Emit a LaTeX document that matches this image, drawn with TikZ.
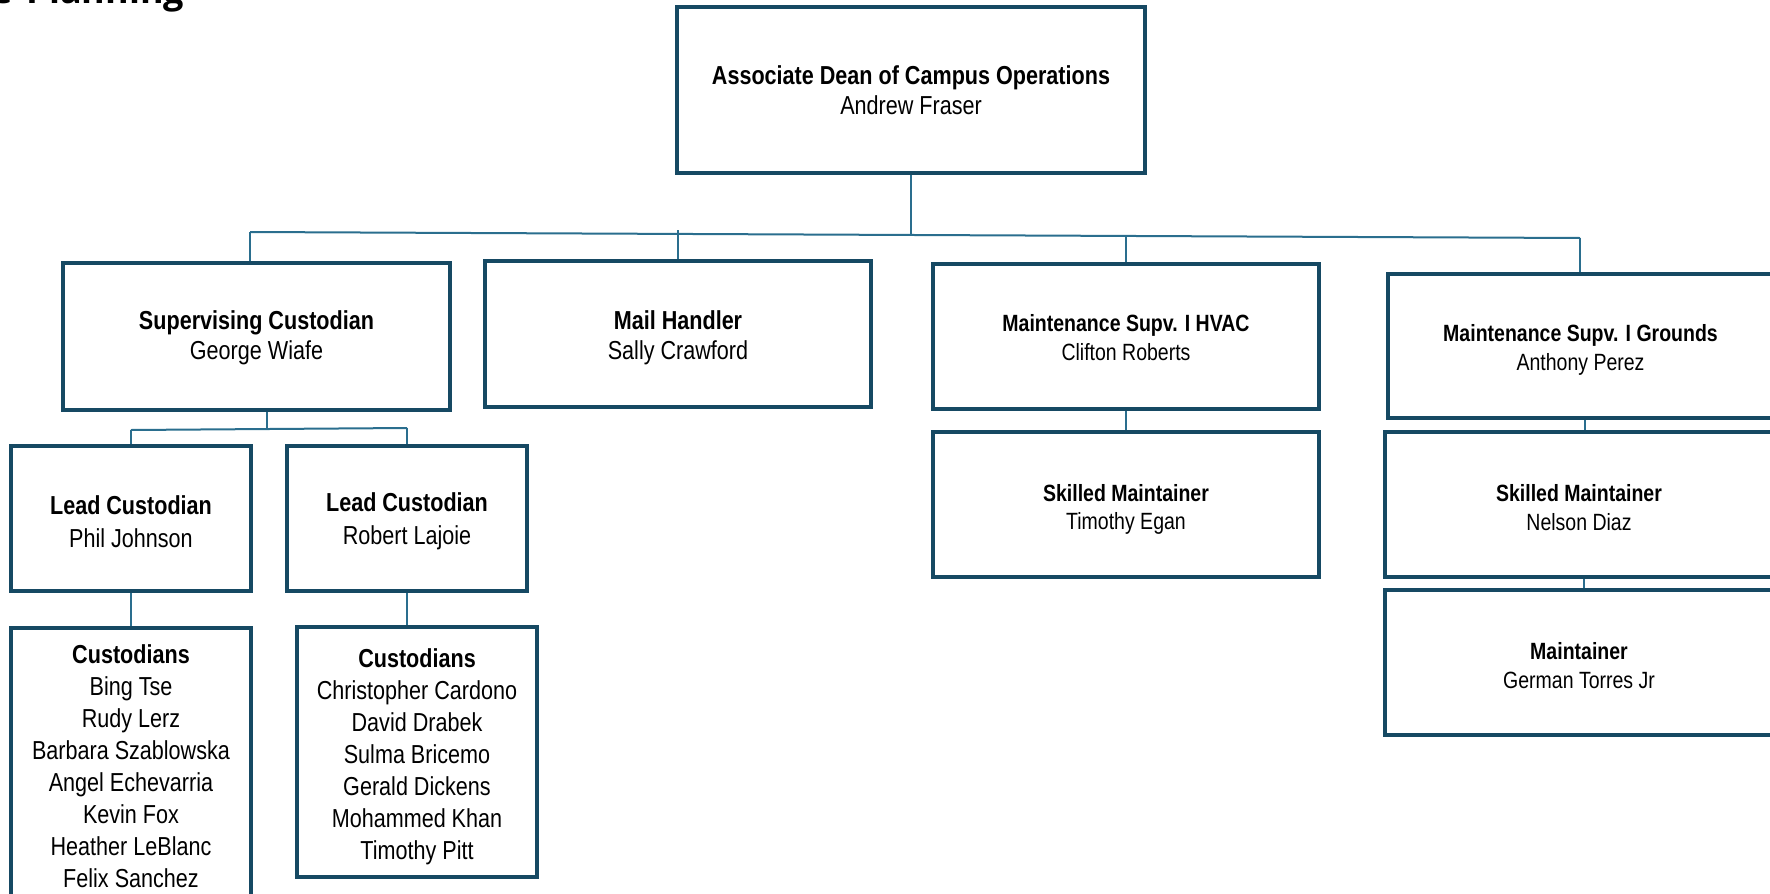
\documentclass[tikz,border=0pt]{standalone}
\usepackage{fontspec}
\setmainfont{Liberation Sans}[FakeStretch=0.83]
\newfontfamily\titlefont{Open Sans}
\definecolor{boxc}{RGB}{22,73,99}
\definecolor{linec}{RGB}{42,110,142}
\begin{document}
\begin{tikzpicture}[x=1pt,y=-1pt,
  orgbox/.style={draw=boxc,line width=4pt,fill=white,rectangle,inner sep=0pt},
  txt/.style={align=center,inner sep=0pt},
  big/.style={font=\fontsize{26}{30}\selectfont},
  listf/.style={font=\fontsize{26}{32}\selectfont},
  small/.style={font=\fontsize{23.5}{28.5}\selectfont},
  conn/.style={draw=linec,line width=2pt}]
\useasboundingbox (0,0) rectangle (1770,894);

% title (cut off at top edge, as in the reference)
\node[anchor=base west,inner sep=0pt,font=\titlefont\bfseries\fontsize{36}{40}\selectfont] (title) at (-9,4) {e\hspace{14pt}Planning};

% boxes
\node[orgbox,minimum width=468pt,minimum height=166pt] (dean) at (911,90) {};
\node[orgbox,minimum width=387pt,minimum height=147pt] (sup) at (256.5,336.5) {};
\node[orgbox,minimum width=386pt,minimum height=146pt] (mail) at (678,334) {};
\node[orgbox,minimum width=386pt,minimum height=145pt] (hvac) at (1126,336.5) {};
\node[orgbox,minimum width=385pt,minimum height=144pt] (grounds) at (1580.5,346) {};
\node[orgbox,minimum width=240pt,minimum height=145pt] (leadA) at (131,518.5) {};
\node[orgbox,minimum width=240pt,minimum height=145pt] (leadB) at (407,518.5) {};
\node[orgbox,minimum width=240pt,minimum height=282pt] (custA) at (131,769) {};
\node[orgbox,minimum width=240pt,minimum height=250pt] (custB) at (417,752) {};
\node[orgbox,minimum width=386pt,minimum height=145pt] (skillA) at (1126,504.5) {};
\node[orgbox,minimum width=388pt,minimum height=145pt] (skillB) at (1579,504.5) {};
\node[orgbox,minimum width=388pt,minimum height=145pt] (maint) at (1579,662.5) {};

% texts (yshift is in page points: negative moves down)
\node[txt,big] (deanT) at (dean.center)
  {\textbf{Associate Dean of Campus Operations}\\Andrew Fraser};
\node[txt,big] (supT) at ([yshift=-1pt]sup.center)
  {\textbf{Supervising Custodian}\\George Wiafe};
\node[txt,big] (mailT) at ([yshift=-4pt]mail.center)
  {\textbf{Mail Handler}\\Sally Crawford};
\node[txt,small] (hvacT) at ([yshift=-1pt]hvac.center)
  {\textbf{Maintenance Supv. I HVAC}\\Clifton Roberts};
\node[txt,small] (groundsT) at ([yshift=-4pt]grounds.center)
  {\textbf{Maintenance Supv. I Grounds}\\Anthony Perez};
\node[txt,font=\fontsize{26}{33}\selectfont] (leadAT) at ([yshift=-3pt]leadA.center)
  {\textbf{Lead Custodian}\\Phil Johnson};
\node[txt,font=\fontsize{26}{33}\selectfont] (leadBT) at ([yshift=-3pt]leadB.center)
  {\textbf{Lead Custodian}\\Robert Lajoie};
\node[txt,listf] (custAT) at ([yshift=3pt]custA.center)
  {\textbf{Custodians}\\Bing Tse\\Rudy Lerz\\Barbara Szablowska\\Angel Echevarria\\Kevin Fox\\Heather LeBlanc\\Felix Sanchez};
\node[txt,listf] (custBT) at ([yshift=-5pt]custB.center)
  {\textbf{Custodians}\\Christopher Cardono\\David Drabek\\Sulma Bricemo\\Gerald Dickens\\Mohammed Khan\\Timothy Pitt};
\node[txt,small] (skillAT) at ([yshift=-5pt]skillA.center)
  {\textbf{Skilled Maintainer}\\Timothy Egan};
\node[txt,small] (skillBT) at ([yshift=-3pt]skillB.center)
  {\textbf{Skilled Maintainer}\\Nelson Diaz};
\node[txt,small] (maintT) at ([yshift=-3pt]maint.center)
  {\textbf{Maintainer}\\German Torres Jr};

% bus coordinates
\coordinate (busL) at (250,232);
\coordinate (busR) at (1580,238);
\coordinate (busD) at (911,235);
\coordinate (busM) at (678,230);
\coordinate (busH) at (1126,236.2);
\coordinate (subL) at (131,430);
\coordinate (subR) at (407,428);
\coordinate (subC) at (267,429);

% connectors
\draw[conn] (dean.south) -- (busD);
\draw[conn] (busL) -- (busR);
\draw[conn] (busL) -- (busL |- sup.north);
\draw[conn] (busM) -- (mail.north);
\draw[conn] (busH) -- (hvac.north);
\draw[conn] (busR) -- (busR |- grounds.north);
\draw[conn] (subC |- sup.south) -- (subC);
\draw[conn] (subL) -- (subR);
\draw[conn] (subL) -- (leadA.north);
\draw[conn] (subR) -- (leadB.north);
\draw[conn] (leadA.south) -- (custA.north);
\draw[conn] (leadB.south) -- (leadB.south |- custB.north);
\draw[conn] (hvac.south) -- (skillA.north);
\draw[conn] ([xshift=4pt]grounds.south) -- ([xshift=4pt]grounds.south |- skillB.north);
\draw[conn] ([xshift=5pt]skillB.south) -- ([xshift=5pt]skillB.south |- maint.north);
\end{tikzpicture}
\end{document}
